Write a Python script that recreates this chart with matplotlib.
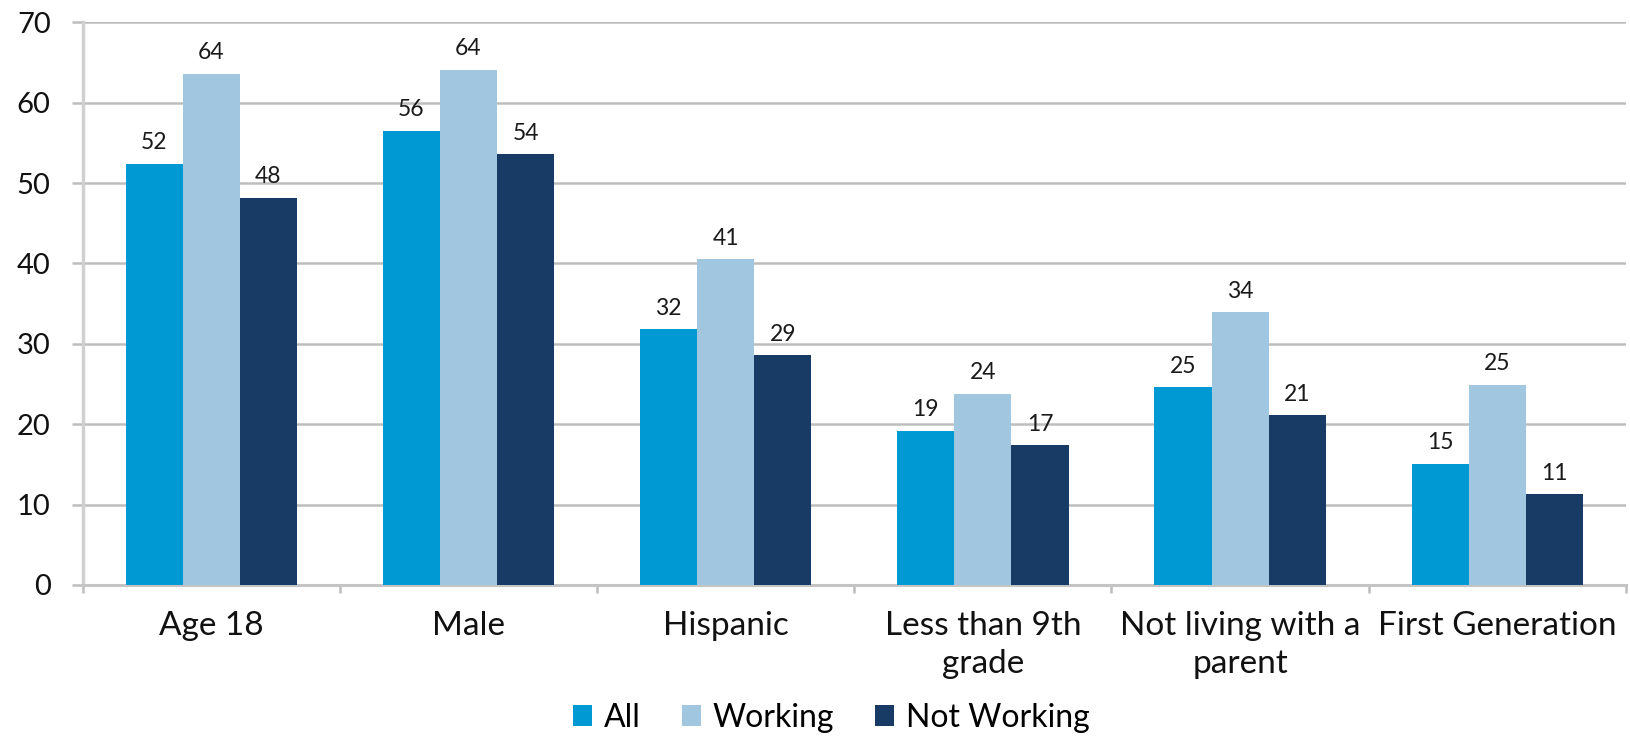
import numpy as np
import matplotlib
matplotlib.use('Agg')
import matplotlib.pyplot as plt

categories = ['Age 18', 'Male', 'Hispanic', 'Less than 9th\ngrade',
              'Not living with a\nparent', 'First Generation']
series_names = ['All', 'Working', 'Not Working']
all_vals = [52.4, 56.5, 31.8, 19.2, 24.6, 15.1]
working_vals = [63.6, 64.1, 40.5, 23.8, 33.9, 24.9]
not_working_vals = [48.2, 53.6, 28.6, 17.4, 21.1, 11.3]
value_labels = [[52, 56, 32, 19, 25, 15],
                [64, 64, 41, 24, 34, 25],
                [48, 54, 29, 17, 21, 11]]
colors = ['#0099d3', '#a0c7df', '#173b65']

plt.rcParams['font.family'] = ['Lato', 'DejaVu Sans']

fig = plt.figure(figsize=(16.3, 7.37), dpi=100)
ax = fig.add_axes([0.0507, 0.2063, 0.9468, 0.7634])

x = np.arange(len(categories))
w = 0.222
data = [all_vals, working_vals, not_working_vals]
handles = []
for i, vals in enumerate(data):
    bars = ax.bar(x + (i - 1) * w, vals, w, color=colors[i], label=series_names[i], zorder=3)
    handles.append(bars)
    for b, lab in zip(bars, value_labels[i]):
        ax.annotate(str(lab), (b.get_x() + b.get_width() / 2, b.get_height()),
                    xytext=(0, 7.5), textcoords='offset points',
                    ha='center', va='bottom', fontsize=16.5, color='#1a1a1a')

ax.set_xlim(-0.5, len(categories) - 0.5)
ax.set_ylim(0, 70)
ax.set_yticks(range(0, 71, 10))
ax.yaxis.grid(True, color='#bdbdbd', linewidth=1.8, zorder=0)
ax.tick_params(axis='y', labelsize=21, length=8, width=1.8, color='#bdbdbd', pad=15,
               labelcolor='#111111')

# category labels in the middle, tick marks between the groups
ax.set_xticks(np.arange(-0.5, len(categories)), minor=False)
ax.set_xticklabels([])
ax.set_xticks(x, minor=True)
ax.set_xticklabels(categories, minor=True, fontsize=24, linespacing=1.3, color='#111111')
ax.tick_params(axis='x', which='major', length=6, width=1.8, color='#bdbdbd')
ax.tick_params(axis='x', which='minor', length=0, pad=19)

for s in ['top', 'right']:
    ax.spines[s].set_visible(False)
ax.spines['left'].set_color('#d0d0d0')
ax.spines['left'].set_linewidth(2.5)
ax.spines['bottom'].set_color('#c4c4c4')
ax.spines['bottom'].set_linewidth(2.2)

fig.legend(handles=handles, labels=series_names, loc='center', bbox_to_anchor=(0.51, 0.026),
           ncol=3, frameon=False, fontsize=23, handlelength=0.6, handleheight=0.6,
           handletextpad=0.35, columnspacing=1.3, borderaxespad=0, borderpad=0)

fig.savefig('out.png', dpi=100)
